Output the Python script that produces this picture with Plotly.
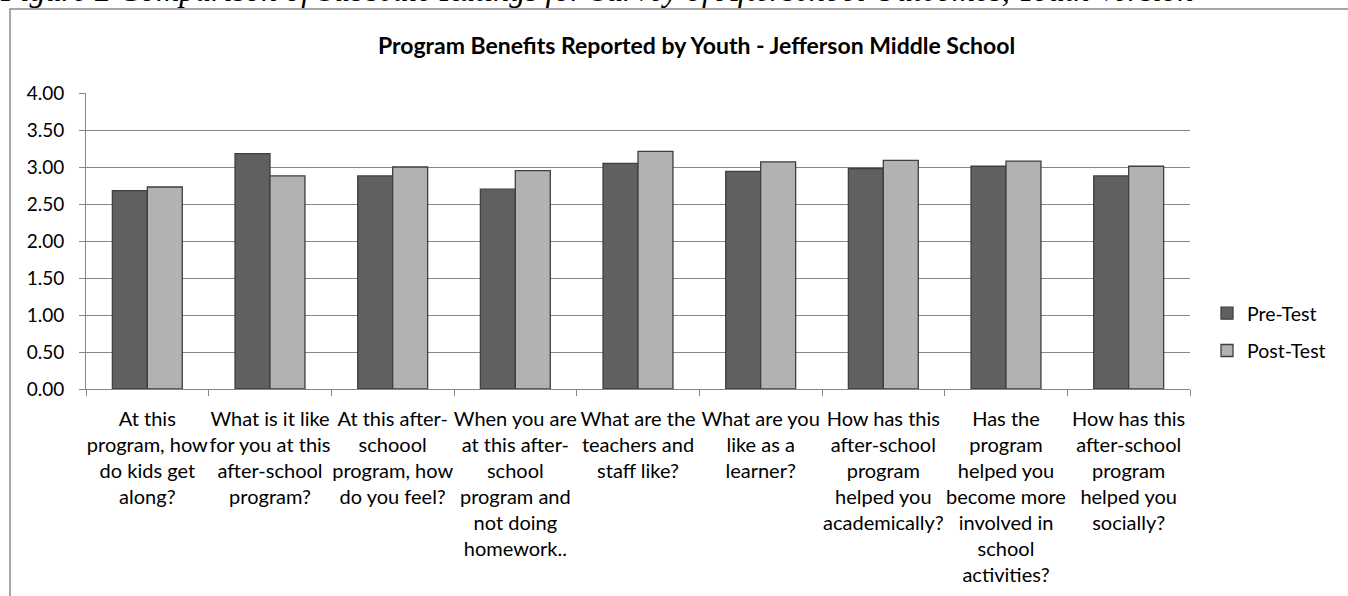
import plotly.graph_objects as go

categories = [
    "At this<br>program, how<br>do kids get<br>along?",
    "What is it like<br>for you at this<br>after-school<br>program?",
    "At this after-<br>schoool<br>program, how<br>do you feel?",
    "When you are<br>at this after-<br>school<br>program and<br>not doing<br>homework..",
    "What are the<br>teachers and<br>staff like?",
    "What are you<br>like as a<br>learner?",
    "How has this<br>after-school<br>program<br>helped you<br>academically?",
    "Has the<br>program<br>helped you<br>become more<br>involved in<br>school<br>activities?",
    "How has this<br>after-school<br>program<br>helped you<br>socially?",
]
pre_test = [2.68, 3.18, 2.88, 2.70, 3.05, 2.94, 2.98, 3.01, 2.88]
post_test = [2.73, 2.88, 3.00, 2.95, 3.21, 3.07, 3.09, 3.08, 3.01]
y_ticks = [0.0, 0.5, 1.0, 1.5, 2.0, 2.5, 3.0, 3.5, 4.0]

FONT = "Lato"
W, H = 1348, 596
L, R, T, B = 86, 158, 93, 207
pw = W - L - R
ph = H - T - B

def px(x):
    return (x - L) / pw

def py(y):
    return (H - B - y) / ph

fig = go.Figure()
fig.add_trace(go.Bar(x=categories, y=pre_test, name="Pre-Test", legendgroup="pre",
                     marker=dict(color="#606060", line=dict(color="#3f3f3f", width=1.3))))
fig.add_trace(go.Bar(x=categories, y=post_test, name="Post-Test", legendgroup="post",
                     marker=dict(color="#b2b2b2", line=dict(color="#3f3f3f", width=1.3))))

fig.update_layout(
    width=W, height=H,
    margin=dict(l=L, r=R, t=T, b=B, autoexpand=False),
    paper_bgcolor="white", plot_bgcolor="white",
    barmode="group", bargap=0.43, bargroupgap=0,
    font=dict(family=FONT, size=19, color="#000000"),
    showlegend=True,
    legend=dict(x=px(1207), y=py(294), xanchor="left", yanchor="top",
                font=dict(size=19.5, family=FONT), tracegroupgap=9,
                bgcolor="rgba(0,0,0,0)", itemwidth=30),
    xaxis=dict(showgrid=False, showline=True, linecolor="#868686", linewidth=1,
               ticks="outside", ticklen=6, tickcolor="#868686", tickson="boundaries",
               ticklabelstandoff=12, tickangle=0, automargin=False,
               tickfont=dict(size=20, family=FONT), fixedrange=True),
    yaxis=dict(range=[0, 4], tickvals=y_ticks, ticktext=[f"{v:.2f}" for v in y_ticks],
               showgrid=True, gridcolor="#868686", gridwidth=1,
               showline=True, linecolor="#868686", linewidth=1, automargin=False,
               ticks="outside", ticklen=6, tickcolor="#868686", ticklabelstandoff=11,
               tickfont=dict(size=19, family=FONT), zeroline=False, fixedrange=True),
)

fig.add_shape(type="rect", xref="paper", yref="paper",
              x0=px(10), x1=px(1400), y0=py(700), y1=py(9),
              line=dict(color="#8a8a8a", width=1.5), layer="below")

fig.add_annotation(text="<b>Program Benefits Reported by Youth - Jefferson Middle School</b>",
                   xref="paper", yref="paper", x=px(696), y=py(45),
                   xanchor="center", yanchor="middle", showarrow=False,
                   font=dict(size=23, family=FONT, color="#000000"))

fig.add_annotation(text="<i>Figure 2 Comparison of Subscale Ratings for Survey of Afterschool Outcomes, Youth Version</i>",
                   xref="paper", yref="paper", x=px(-2), y=py(-10),
                   xanchor="left", yanchor="middle", showarrow=False,
                   font=dict(size=32, family="Liberation Serif", color="#000000"))

fig.write_html("out.html")
